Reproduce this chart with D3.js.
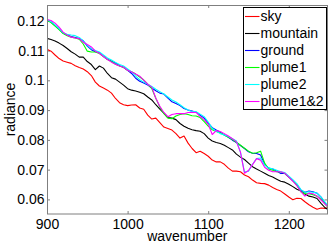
<!DOCTYPE html>
<html><head><meta charset="utf-8">
<script src="https://cdn.jsdelivr.net/npm/d3@7"></script>
<style>
html,body{margin:0;padding:0;background:#fff}
svg{display:block}
text{font-family:"Liberation Sans",Arial,Helvetica,sans-serif}
</style>
</head><body>
<script>
const wavenumber = [900,905,910,915,920,925,930,935,940,945,950,955,960,965,970,975,980,985,990,995,
  1000,1005,1010,1015,1020,1025,1030,1035,1040,1045,1050,1055,1060,1065,1070,1075,1080,1085,1090,1095,
  1100,1105,1110,1115,1120,1125,1130,1135,1140,1145,1150,1155,1160,1165,1170,1175,1180,1185,1190,1195,
  1200,1205,1210,1215,1220,1225,1230,1235,1240,1245,1248];

const sky = [0.1104,0.1098,0.1085,0.1073,0.1065,0.1061,0.1057,0.1049,0.1043,0.1038,
  0.1029,0.1016,0.0994,0.0981,0.0974,0.0967,0.0957,0.0939,0.0925,0.0918,
  0.0915,0.0917,0.0918,0.0907,0.0903,0.0883,0.0870,0.0873,0.0858,0.0843,
  0.0838,0.0833,0.0821,0.0806,0.0813,0.0789,0.0771,0.0757,0.0762,0.0754,
  0.0745,0.0732,0.0726,0.0726,0.0718,0.0705,0.0695,0.0695,0.0693,0.0682,
  0.0676,0.0665,0.0656,0.0654,0.0653,0.0648,0.0640,0.0633,0.0628,0.0618,
  0.0608,0.0599,0.0604,0.0603,0.0592,0.0582,0.0574,0.0567,0.0571,0.0570,0.0572];

const mountain = [0.1141,0.1137,0.1132,0.1125,0.1117,0.1107,0.1096,0.1088,0.1078,0.1078,
  0.1063,0.1053,0.1036,0.1048,0.1041,0.1023,0.1009,0.1004,0.0994,0.0984,
  0.0972,0.0967,0.0964,0.0960,0.0955,0.0944,0.0934,0.0918,0.0903,0.0890,
  0.0875,0.0873,0.0868,0.0855,0.0846,0.0839,0.0834,0.0831,0.0829,0.0821,
  0.0806,0.0796,0.0791,0.0788,0.0782,0.0774,0.0766,0.0752,0.0742,0.0734,
  0.0722,0.0710,0.0702,0.0695,0.0688,0.0680,0.0675,0.0668,0.0661,0.0658,
  0.0651,0.0643,0.0634,0.0628,0.0618,0.0611,0.0608,0.0603,0.0587,0.0572,0.0567];

const ground = [0.1202,0.1196,0.1184,0.1172,0.1159,0.1152,0.1147,0.1144,0.1140,0.1133,
  0.1115,0.1103,0.1096,0.1093,0.1081,0.1071,0.1065,0.1058,0.1049,0.1044,
  0.1034,0.1023,0.1007,0.0997,0.0991,0.0984,0.0974,0.0965,0.0957,0.0954,
  0.0940,0.0928,0.0922,0.0915,0.0905,0.0900,0.0897,0.0893,0.0883,0.0873,
  0.0856,0.0841,0.0833,0.0826,0.0816,0.0809,0.0799,0.0791,0.0781,0.0771,
  0.0760,0.0755,0.0754,0.0749,0.0718,0.0705,0.0702,0.0695,0.0687,0.0687,
  0.0675,0.0663,0.0650,0.0631,0.0624,0.0628,0.0626,0.0621,0.0608,0.0587,0.0577];

const plume1 = [0.1201,0.1194,0.1182,0.1170,0.1157,0.1150,0.1145,0.1142,0.1138,0.1122,
  0.1098,0.1095,0.1095,0.1090,0.1080,0.1070,0.1063,0.1054,0.1048,0.1043,
  0.1034,0.1029,0.1021,0.1011,0.1001,0.0987,0.0972,0.0940,0.0910,0.0888,
  0.0873,0.0871,0.0880,0.0885,0.0888,0.0885,0.0881,0.0880,0.0875,0.0861,
  0.0846,0.0834,0.0828,0.0823,0.0816,0.0809,0.0801,0.0792,0.0782,0.0772,
  0.0762,0.0755,0.0757,0.0762,0.0722,0.0702,0.0698,0.0693,0.0692,0.0688,
  0.0675,0.0663,0.0648,0.0626,0.0619,0.0619,0.0616,0.0611,0.0601,0.0584,0.0576];

const plume2 = [0.1204,0.1197,0.1186,0.1174,0.1160,0.1155,0.1152,0.1150,0.1144,0.1132,
  0.1117,0.1107,0.1100,0.1095,0.1085,0.1075,0.1068,0.1060,0.1053,0.1048,
  0.1038,0.1028,0.1014,0.1002,0.0994,0.0987,0.0979,0.0970,0.0962,0.0954,
  0.0944,0.0934,0.0927,0.0918,0.0908,0.0900,0.0895,0.0895,0.0886,0.0878,
  0.0860,0.0839,0.0829,0.0821,0.0816,0.0811,0.0804,0.0796,0.0759,0.0692,
  0.0695,0.0718,0.0737,0.0739,0.0715,0.0705,0.0703,0.0698,0.0693,0.0690,
  0.0678,0.0666,0.0653,0.0633,0.0624,0.0626,0.0624,0.0621,0.0608,0.0591,0.0581];

const plume12 = [0.1204,0.1201,0.1192,0.1179,0.1162,0.1152,0.1145,0.1142,0.1140,0.1128,
  0.1120,0.1112,0.1098,0.1091,0.1080,0.1070,0.1061,0.1054,0.1048,0.1044,
  0.1034,0.1028,0.1021,0.1014,0.1001,0.0987,0.0977,0.0940,0.0913,0.0892,
  0.0878,0.0885,0.0888,0.0888,0.0888,0.0892,0.0893,0.0892,0.0878,0.0868,
  0.0853,0.0818,0.0831,0.0828,0.0821,0.0813,0.0804,0.0794,0.0759,0.0688,
  0.0697,0.0717,0.0737,0.0732,0.0708,0.0698,0.0693,0.0693,0.0693,0.0688,
  0.0675,0.0661,0.0646,0.0626,0.0611,0.0621,0.0619,0.0611,0.0598,0.0584,0.0577];

const seriesNames  = ["sky","mountain","ground","plume1","plume2","plume1&2"];
const seriesValues = [sky, mountain, ground, plume1, plume2, plume12];
const seriesColors = ["#ff0000","#000000","#0000ff","#00ff00","#00ffff","#ff00ff"];

const xTicks = [900,1000,1100,1200];
const yTicks = [0.06,0.07,0.08,0.09,0.1,0.11,0.12];
const yTickLabels = ["0.06","0.07","0.08","0.09","0.1","0.11","0.12"];
const xLabel = "wavenumber", yLabel = "radiance";

const W = 332, H = 245;
const L = 47, T = 5, R = 327.5, B = 214;

const svg = d3.select("body").append("svg").attr("width", W).attr("height", H);

const x = d3.scaleLinear().domain([900, 1248]).range([L, R]);
const y = d3.scaleLinear().domain([0.0551, 0.1253]).range([B, T]);

svg.append("defs").append("clipPath").attr("id","clip")
  .append("rect").attr("x", L).attr("y", T).attr("width", R - L).attr("height", B - T);

const axisColor = "#7f7f7f";
function styleAxis(g){
  g.select(".domain").remove();
  g.selectAll(".tick line").attr("stroke", axisColor);
  g.selectAll(".tick text").attr("fill", "#000").style("font-size","14px");
}

svg.append("g").attr("transform", `translate(0,${B})`)
  .call(d3.axisBottom(x).tickValues(xTicks).tickSize(-3).tickPadding(5.5).tickFormat(d3.format("d")))
  .call(styleAxis);
svg.append("g").attr("transform", `translate(0,${T})`)
  .call(d3.axisTop(x).tickValues(xTicks).tickSize(-3).tickFormat(""))
  .call(styleAxis);
svg.append("g").attr("transform", `translate(${L},0)`)
  .call(d3.axisLeft(y).tickValues(yTicks).tickSize(-3).tickPadding(2.5).tickFormat((d,i)=>yTickLabels[i]))
  .call(styleAxis);
svg.append("g").attr("transform", `translate(${R},0)`)
  .call(d3.axisRight(y).tickValues(yTicks).tickSize(-3).tickFormat(""))
  .call(styleAxis);

const line = d3.line().x((d,i)=>x(wavenumber[i])).y(d=>y(d));
const plot = svg.append("g").attr("clip-path","url(#clip)");
seriesValues.forEach((vals, s) => {
  plot.append("path").datum(vals)
    .attr("fill","none").attr("stroke", seriesColors[s])
    .attr("stroke-width", 1.1).attr("stroke-linejoin","round")
    .attr("d", line);
});

svg.append("rect").attr("x", L + 0.5).attr("y", T + 0.5)
  .attr("width", R - L - 0.5).attr("height", B - T - 0.5)
  .attr("fill","none").attr("stroke", axisColor).attr("stroke-width", 1);

svg.append("text").attr("x", (L + R) / 2).attr("y", 241)
  .attr("text-anchor","middle").style("font-size","14px").text(xLabel);
svg.append("text").attr("transform", `translate(15,${(T + B) / 2}) rotate(-90)`)
  .attr("text-anchor","middle").style("font-size","14px").text(yLabel);

// legend
const lg = svg.append("g");
lg.append("rect").attr("x", 243.5).attr("y", 7.5).attr("width", 83).attr("height", 102)
  .attr("fill","#fff").attr("stroke","#000").attr("stroke-width",1);
seriesNames.forEach((n, i) => {
  const yy = 16.5 + i * 17;
  lg.append("line").attr("x1", 245).attr("x2", 259.5).attr("y1", yy).attr("y2", yy)
    .attr("stroke", seriesColors[i]).attr("stroke-width", 1.1);
  lg.append("text").attr("x", 260.5).attr("y", yy).attr("dy","0.35em")
    .style("font-size","14px").text(n);
});
</script>
</body></html>
